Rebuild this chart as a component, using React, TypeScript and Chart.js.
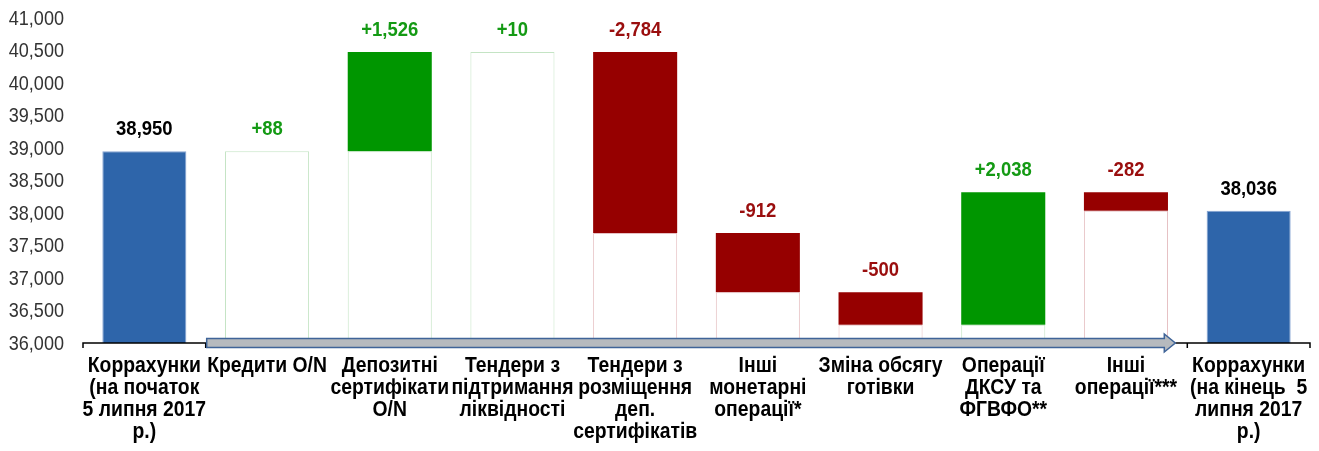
import { useEffect, useRef } from 'react';
import { Chart, registerables } from 'chart.js';

Chart.register(...registerables);

const categories: string[][] = [
  ['Коррахунки', '(на початок', '5 липня 2017', 'р.)'],
  ['Кредити О/N'],
  ['Депозитні', 'сертифікати', 'О/N'],
  ['Тендери з', 'підтримання', 'ліквідності'],
  ['Тендери з', 'розміщення', 'деп.', 'сертифікатів'],
  ['Інші', 'монетарні', 'операції*'],
  ['Зміна обсягу', 'готівки'],
  ['Операції', 'ДКСУ та', 'ФГВФО**'],
  ['Інші', 'операції***'],
  ['Коррахунки', '(на кінець  5', 'липня 2017', 'р.)'],
];

const valueLabels = ['38,950', '+88', '+1,526', '+10', '-2,784', '-912', '-500', '+2,038', '-282', '38,036'];
const barKinds = ['total', 'up', 'up', 'up', 'down', 'down', 'down', 'up', 'down', 'total'];
const baseValues = [0, 38950, 38950, 40476, 37692, 36780, 36280, 36280, 38036, 0];
const barValues = [38950, 0, 1526, 0, 2784, 912, 500, 2038, 282, 38036];

const yMin = 36000;
const yMax = 41000;
const yStep = 500;

const FONT = "'Liberation Sans', Arial, sans-serif";

const fillColors: Record<string, string> = { total: '#2e65aa', up: '#009600', down: '#960000' };
const baseBorders: Record<string, string> = { total: 'rgba(0,0,0,0)', up: '#c4e4c4', down: '#e6c0c3' };
const labelColors: Record<string, string> = { total: '#000000', up: '#149a14', down: '#9a0e0e' };

function narrowText(ctx: CanvasRenderingContext2D, text: string, x: number, y: number, sx: number, align: CanvasTextAlign) {
  ctx.save();
  ctx.translate(x, y);
  ctx.scale(sx, 1);
  ctx.textAlign = align;
  ctx.fillText(text, 0, 0);
  ctx.restore();
}

const overlay = {
  id: 'overlay',
  afterDatasetsDraw(chart: any) {
    const { ctx, chartArea, scales } = chart;
    const x = scales.x;
    const y = scales.y;
    const half = (x.getPixelForValue(1) - x.getPixelForValue(0)) / 2;
    const ay = chartArea.bottom;
    const n = categories.length;
    ctx.save();

    const arrowStart = x.getPixelForValue(1) - half + 1;
    const tip = x.getPixelForValue(n - 1) - half - 12;

    ctx.strokeStyle = '#000';
    ctx.lineWidth = 1.5;
    ctx.beginPath();
    ctx.moveTo(x.getPixelForValue(0) - half, ay + 5);
    ctx.lineTo(x.getPixelForValue(0) - half, ay);
    ctx.lineTo(x.getPixelForValue(0) + half, ay);
    ctx.lineTo(x.getPixelForValue(0) + half, ay + 5);
    ctx.stroke();
    ctx.beginPath();
    ctx.moveTo(tip, ay);
    ctx.lineTo(x.getPixelForValue(n - 1) + half, ay);
    ctx.lineTo(x.getPixelForValue(n - 1) + half, ay + 5);
    ctx.moveTo(x.getPixelForValue(n - 1) - half, ay);
    ctx.lineTo(x.getPixelForValue(n - 1) - half, ay + 5);
    ctx.stroke();

    const sh = 4.5;
    const hh = 9;
    const hl = 11;
    ctx.beginPath();
    ctx.moveTo(arrowStart, ay - sh);
    ctx.lineTo(tip - hl, ay - sh);
    ctx.lineTo(tip - hl, ay - hh);
    ctx.lineTo(tip, ay);
    ctx.lineTo(tip - hl, ay + hh);
    ctx.lineTo(tip - hl, ay + sh);
    ctx.lineTo(arrowStart, ay + sh);
    ctx.closePath();
    ctx.fillStyle = '#b6babe';
    ctx.fill();
    ctx.strokeStyle = '#3f6498';
    ctx.lineWidth = 1.5;
    ctx.stroke();

    // value labels
    ctx.font = `bold 21px ${FONT}`;
    ctx.textBaseline = 'alphabetic';
    for (let i = 0; i < n; i++) {
      const top = y.getPixelForValue(baseValues[i] + barValues[i]);
      ctx.fillStyle = labelColors[barKinds[i]];
      narrowText(ctx, valueLabels[i], x.getPixelForValue(i), top - 16, 0.88, 'center');
    }

    // y tick labels
    ctx.font = `21px ${FONT}`;
    ctx.fillStyle = '#333333';
    ctx.textBaseline = 'middle';
    for (const t of y.ticks) {
      const py = y.getPixelForValue(t.value);
      narrowText(ctx, Number(t.value).toLocaleString('en-US'), chartArea.left - 19, py + 1, 0.86, 'right');
    }

    // category labels
    ctx.font = `bold 22px ${FONT}`;
    ctx.fillStyle = '#000000';
    ctx.textBaseline = 'alphabetic';
    for (let i = 0; i < n; i++) {
      const cx = x.getPixelForValue(i);
      categories[i].forEach((line, j) => {
        narrowText(ctx, line, cx, ay + 29 + j * 22, 0.88, 'center');
      });
    }
    ctx.restore();
  },
};

export default function App() {
  const ref = useRef<HTMLCanvasElement | null>(null);
  useEffect(() => {
    if (!ref.current) return;
    const chart = new Chart(ref.current, {
      type: 'bar',
      data: {
        labels: categories.map((c) => c.join(' ')),
        datasets: [
          {
            label: 'base',
            data: baseValues,
            backgroundColor: '#ffffff',
            borderColor: barKinds.map((k) => baseBorders[k]),
            borderWidth: 1,
            borderSkipped: false,
            stack: 's',
          },
          {
            label: 'change',
            data: barValues,
            backgroundColor: barKinds.map((k) => fillColors[k]),
            borderColor: barKinds.map((k) => (k === 'total' ? '#86a4d2' : fillColors[k])),
            borderWidth: barKinds.map((k) => (k === 'total' ? 1 : 0)),
            borderSkipped: false,
            stack: 's',
          },
        ],
      },
      options: {
        responsive: true,
        maintainAspectRatio: false,
        animation: false,
        layout: { padding: { left: 8, right: 9, top: 18, bottom: 0 } },
        datasets: { bar: { categoryPercentage: 1, barPercentage: 0.685 } },
        plugins: { legend: { display: false }, tooltip: { enabled: false }, title: { display: false } },
        scales: {
          x: {
            stacked: true,
            grid: { display: false },
            border: { display: false },
            ticks: { display: false },
            afterFit: (scale: any) => {
              scale.height = 108;
            },
          },
          y: {
            stacked: true,
            min: yMin,
            max: yMax,
            grid: { display: false },
            border: { display: false },
            ticks: { display: false, stepSize: yStep },
            afterFit: (scale: any) => {
              scale.width = 75;
            },
          },
        },
      },
      plugins: [overlay],
    });
    return () => chart.destroy();
  }, []);
  return (
    <div style={{ position: 'absolute', left: 0, top: 0, width: 1319, height: 451 }}>
      <canvas ref={ref} />
    </div>
  );
}
